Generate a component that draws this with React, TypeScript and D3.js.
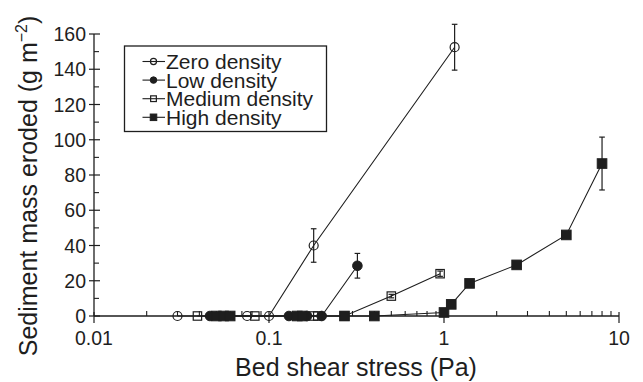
import React from "react";
import * as d3 from "d3";

const zeroX = [0.03, 0.075, 0.1, 0.18, 1.15];
const zeroY = [0, 0, 0, 40, 152.5];
const zeroErr = [0, 0, 0, 9.5, 13];

const lowX = [0.046, 0.13, 0.165, 0.2, 0.32];
const lowY = [0, 0, 0, 0, 28.5];
const lowErr = [0, 0, 0, 0, 7];

const medX = [0.039, 0.083, 0.18, 0.19, 0.27, 0.5, 0.95];
const medY = [0, 0, 0, 0, 0, 11.3, 24];
const medErr = [0, 0, 0, 0, 0, 1, 1.5];

const highX = [0.05, 0.055, 0.06, 0.145, 0.155, 0.27, 0.4, 1.0, 1.1, 1.4, 2.6, 5, 8];
const highY = [0, 0, 0, 0, 0, 0, 0, 2, 6.6, 18.5, 29, 46, 86.5];
const highErr = [0, 0, 0, 0, 0, 0, 0, 0, 0, 0, 0, 0, 15];

const yTicks = [0, 20, 40, 60, 80, 100, 120, 140, 160];
const xTicks = [0.01, 0.1, 1, 10];
const xTickLabels = ["0.01", "0.1", "1", "10"];
const legendLabels = ["Zero density", "Low density", "Medium density", "High density"];

const FONT = "'Liberation Sans', Arial, Helvetica, sans-serif";
const INK = "#1e1e1e";

type Kind = "openCircle" | "filledCircle" | "openSquare" | "filledSquare";

function Marker({ kind, x, y, s = 1 }: { kind: Kind; x: number; y: number; s?: number }) {
  if (kind === "openCircle")
    return <circle cx={x} cy={y} r={4.5 * s} fill="none" stroke={INK} strokeWidth={1.2} />;
  if (kind === "filledCircle")
    return <circle cx={x} cy={y} r={4.8 * s} fill={INK} stroke={INK} strokeWidth={1} />;
  const h = (kind === "openSquare" ? 4.2 : 4.8) * s;
  if (kind === "openSquare")
    return <rect x={x - h} y={y - h} width={2 * h} height={2 * h} fill="none" stroke={INK} strokeWidth={1.2} />;
  return <rect x={x - h} y={y - h} width={2 * h} height={2 * h} fill={INK} stroke={INK} strokeWidth={1} />;
}

export default function App() {
  const W = 643, H = 382;
  const x = d3.scaleLog().domain([0.01, 10]).range([94, 619]);
  const y = d3.scaleLinear().domain([0, 160]).range([316, 34]);

  const series: { xs: number[]; ys: number[]; es: number[]; kind: Kind }[] = [
    { xs: zeroX, ys: zeroY, es: zeroErr, kind: "openCircle" },
    { xs: lowX, ys: lowY, es: lowErr, kind: "filledCircle" },
    { xs: medX, ys: medY, es: medErr, kind: "openSquare" },
    { xs: highX, ys: highY, es: highErr, kind: "filledSquare" },
  ];

  const line = d3
    .line<[number, number]>()
    .x((d) => x(d[0]))
    .y((d) => y(d[1]));

  const minorX: number[] = [];
  for (const dec of [0.01, 0.1, 1]) for (let k = 2; k <= 9; k++) minorX.push(dec * k);
  const minorY = d3.range(10, 160, 20);

  const legendKinds: Kind[] = ["openCircle", "filledCircle", "openSquare", "filledSquare"];

  return (
    <svg width={W} height={H} style={{ display: "block", position: "absolute", left: 0, top: 0 }}>
      <rect width={W} height={H} fill="#fff" />
      {/* axes */}
      <line x1={x(0.01)} x2={x(10)} y1={y(0)} y2={y(0)} stroke={INK} strokeWidth={1.3} />
      <line x1={x(0.01)} x2={x(0.01)} y1={y(0)} y2={y(160)} stroke={INK} strokeWidth={1.3} />
      {yTicks.map((t) => (
        <g key={"y" + t}>
          <line x1={89} x2={100} y1={y(t)} y2={y(t)} stroke={INK} strokeWidth={1.2} />
          <text x={86} y={y(t)} dy="0.36em" textAnchor="end" fontFamily={FONT} fontSize={19.5} fill={INK}>
            {t}
          </text>
        </g>
      ))}
      {minorY.map((t) => (
        <line key={"my" + t} x1={94} x2={99} y1={y(t)} y2={y(t)} stroke={INK} strokeWidth={1.1} />
      ))}
      {xTicks.map((t, i) => (
        <g key={"x" + t}>
          <line x1={x(t)} x2={x(t)} y1={y(0) - 4} y2={y(0) + 7} stroke={INK} strokeWidth={1.2} />
          <text x={x(t)} y={345} textAnchor="middle" fontFamily={FONT} fontSize={19.5} fill={INK}>
            {xTickLabels[i]}
          </text>
        </g>
      ))}
      {minorX.map((t) => (
        <line key={"mx" + t} x1={x(t)} x2={x(t)} y1={y(0) - 5} y2={y(0)} stroke={INK} strokeWidth={1.1} />
      ))}
      {/* axis titles */}
      <text x={356} y={376} textAnchor="middle" fontFamily={FONT} fontSize={25} fill={INK}>
        Bed shear stress (Pa)
      </text>
      <text
        transform={`translate(36.5,186) rotate(-90)`}
        textAnchor="middle"
        fontFamily={FONT}
        fontSize={25}
        fill={INK}
      >
        Sediment mass eroded (g m
        <tspan fontSize={16} dy={-10}>−2</tspan>
        <tspan dy={10}>)</tspan>
      </text>
      {/* series lines */}
      {series.map((s, i) => (
        <path
          key={"l" + i}
          d={line(s.xs.map((v, j) => [v, s.ys[j]] as [number, number])) || ""}
          fill="none"
          stroke={INK}
          strokeWidth={1.1}
        />
      ))}
      {/* error bars */}
      {series.map((s, i) =>
        s.xs.map((v, j) =>
          s.es[j] > 0 ? (
            <g key={`e${i}-${j}`} stroke={INK} strokeWidth={1.2}>
              <line x1={x(v)} x2={x(v)} y1={y(s.ys[j] - s.es[j])} y2={y(s.ys[j] + s.es[j])} />
              <line x1={x(v) - 2.8} x2={x(v) + 2.8} y1={y(s.ys[j] - s.es[j])} y2={y(s.ys[j] - s.es[j])} />
              <line x1={x(v) - 2.8} x2={x(v) + 2.8} y1={y(s.ys[j] + s.es[j])} y2={y(s.ys[j] + s.es[j])} />
            </g>
          ) : null
        )
      )}
      {/* markers */}
      {series.map((s, i) =>
        s.xs.map((v, j) => <Marker key={`m${i}-${j}`} kind={s.kind} x={x(v)} y={y(s.ys[j])} />)
      )}
      {/* legend */}
      <rect x={124.5} y={46} width={202} height={85.5} fill="#fff" stroke={INK} strokeWidth={1.3} />
      {legendLabels.map((lab, i) => {
        const cy = 61.5 + i * 18.6;
        return (
          <g key={"lg" + i}>
            <line x1={142.5} x2={165} y1={cy} y2={cy} stroke={INK} strokeWidth={1.1} />
            <Marker kind={legendKinds[i]} x={153.5} y={cy} s={0.68} />
            <text x={166} y={cy} dy="0.36em" fontFamily={FONT} fontSize={21} fill={INK}>
              {lab}
            </text>
          </g>
        );
      })}
    </svg>
  );
}
